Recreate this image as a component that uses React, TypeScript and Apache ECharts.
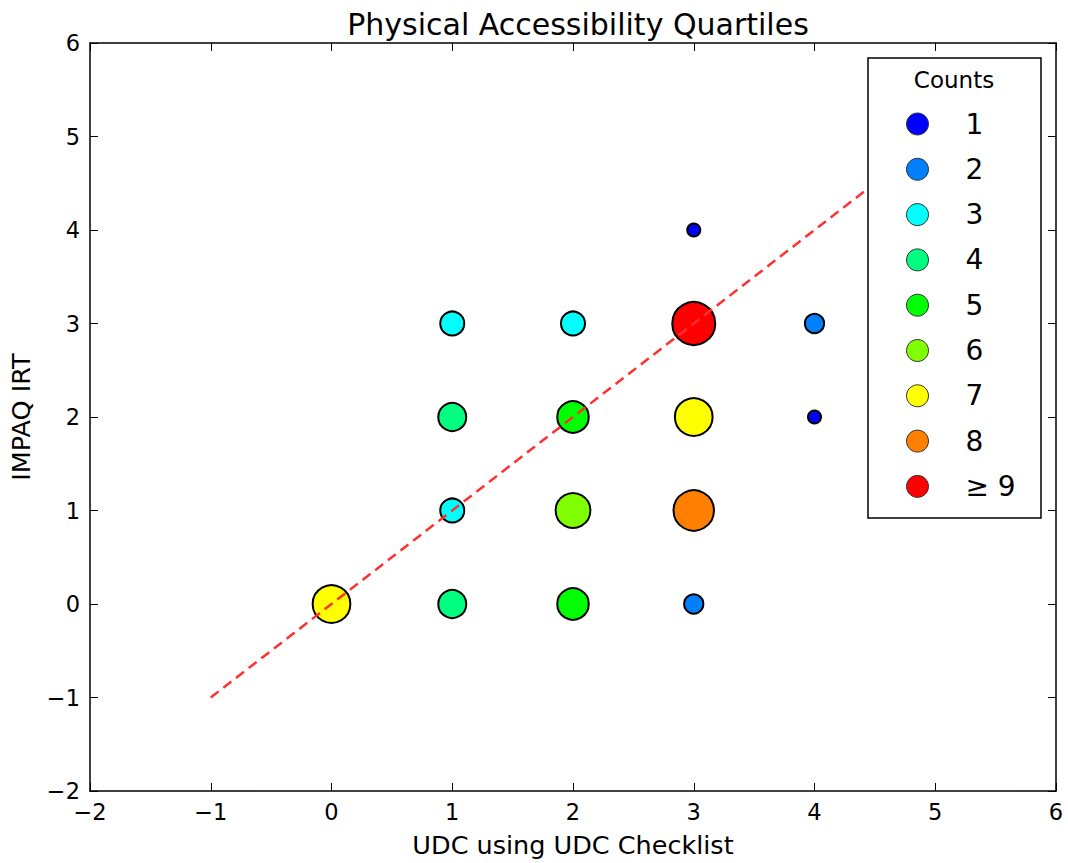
import React, { useEffect, useRef } from "react";
import * as echarts from "echarts";

// Data
const xs = [3, 4, 4, 3, 1, 2, 1, 1, 1, 2, 2, 2, 0, 3, 3, 3];
const ys = [4, 2, 3, 0, 3, 3, 1, 2, 0, 2, 0, 1, 0, 2, 1, 3];
const counts = [1, 1, 2, 2, 3, 3, 3, 4, 4, 5, 5, 6, 7, 7, 8, 9];
const countLevels = [1, 2, 3, 4, 5, 6, 7, 8, 9];
const levelNames = ["1", "2", "3", "4", "5", "6", "7", "8", "≥ 9"];
const levelColors = ["#0000ff", "#0080ff", "#00ffff", "#00ff80", "#00ff00", "#80ff00", "#ffff00", "#ff8000", "#ff0000"];
const refLineX = [-1, 5];
const tickMin = -2;
const tickMax = 6;

const FONT = "DejaVu Sans";

export default function App() {
  const ref = useRef<HTMLDivElement>(null);
  useEffect(() => {
    if (!ref.current) return;
    const chart = echarts.init(ref.current, undefined, { renderer: "svg" });
    const scatterSeries = countLevels.map((lvl, i) => ({
      type: "scatter",
      name: levelNames[i],
      z: 2,
      data: counts
        .map((c, j) => (Math.min(c, 9) === lvl ? [xs[j], ys[j], c] : null))
        .filter((d) => d !== null),
      symbol: "circle",
      symbolSize: (v: number[]) => 15 * Math.sqrt(Math.min(v[2], 9)) - 2,
      itemStyle: { color: levelColors[i], borderColor: "#000", borderWidth: 2, opacity: 1 },
      emphasis: { disabled: true },
    }));
    const fmt = (v: number) => String(v).replace("-", "\u2212");
    const axisCommon = {
      type: "value",
      min: tickMin,
      max: tickMax,
      interval: 1,
      splitLine: { show: false },
      axisLine: { show: true, onZero: false, lineStyle: { color: "#000", width: 1.5 } },
      axisTick: { show: true, inside: true, length: 8, lineStyle: { color: "#000", width: 1 } },
    };
    chart.setOption({
      animation: false,
      backgroundColor: "#fff",
      title: {
        text: "Physical Accessibility Quartiles",
        left: 573,
        textAlign: "center",
        top: 4,
        textStyle: { fontFamily: FONT, fontSize: 30, fontWeight: "normal", color: "#000" },
      },
      grid: { left: 89, right: 12, top: 43, bottom: 72 },
      xAxis: [
        {
          ...axisCommon,
          position: "bottom",
          name: "UDC using UDC Checklist",
          nameLocation: "middle",
          nameGap: 41,
          nameTextStyle: { fontFamily: FONT, fontSize: 25.5, color: "#000" },
          axisLabel: { fontFamily: FONT, fontSize: 22.5, color: "#000", margin: 9, formatter: fmt },
        },
        { ...axisCommon, position: "top", axisLabel: { show: false } },
      ],
      yAxis: [
        {
          ...axisCommon,
          position: "left",
          name: "IMPAQ IRT",
          nameLocation: "middle",
          nameGap: 56,
          nameTextStyle: { fontFamily: FONT, fontSize: 25.5, color: "#000" },
          axisLabel: { fontFamily: FONT, fontSize: 22.5, color: "#000", margin: 10, formatter: fmt },
        },
        { ...axisCommon, position: "right", axisLabel: { show: false } },
      ],
      legend: {
        orient: "vertical",
        left: 901,
        top: 104,
        z: 10,
        itemWidth: 22,
        itemHeight: 22,
        itemGap: 15.3,
        icon: "circle",
        selectedMode: false,
        data: levelNames,
        itemStyle: { borderColor: "#333", borderWidth: 1 },
        textStyle: { fontFamily: FONT, fontSize: 28, color: "#000", lineHeight: 30, padding: [0, 0, 0, 32] },
      },
      graphic: [
        {
          type: "rect",
          z: 5,
          shape: { x: 868, y: 58, width: 173, height: 460 },
          style: { fill: "#fff", stroke: "#000", lineWidth: 1.5 },
        },
        {
          type: "text",
          z: 11,
          x: 954,
          y: 80,
          style: {
            text: "Counts",
            fontFamily: FONT,
            fontSize: 23,
            fill: "#000",
            textAlign: "center",
            textVerticalAlign: "middle",
          },
        },
      ],
      series: [
        ...scatterSeries,
        {
          type: "line",
          name: "ref",
          z: 3,
          data: refLineX.map((v) => [v, v]),
          symbol: "none",
          lineStyle: { color: "#ff3030", width: 2.5, type: [10, 6] },
          emphasis: { disabled: true },
        },
      ],
    });
    return () => chart.dispose();
  }, []);
  return <div ref={ref} style={{ position: "fixed", left: 0, top: 0, width: 1068, height: 863 }} />;
}
